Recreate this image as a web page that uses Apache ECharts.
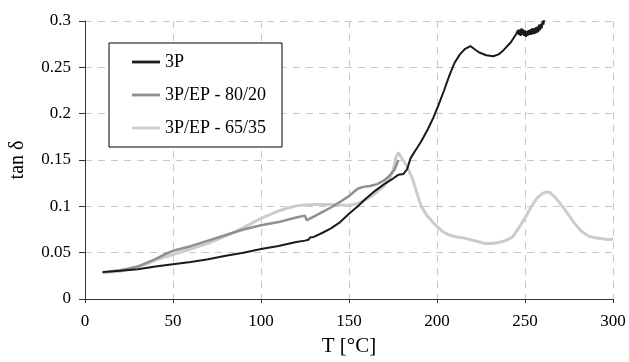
<!DOCTYPE html>
<html>
<head>
<meta charset="utf-8">
<script src="https://cdn.jsdelivr.net/npm/echarts@6/dist/echarts.min.js"></script>
<style>html,body{margin:0;padding:0;background:#fff}#c{width:629px;height:362px}</style>
</head>
<body>
<div id="c"></div>
<script>
// ---- data ----
const seriesNames = ['3P', '3P/EP - 80/20', '3P/EP - 65/35'];
const xTicks = [0, 50, 100, 150, 200, 250, 300];
const yTicks = [0, 0.05, 0.1, 0.15, 0.2, 0.25, 0.3];

const t3P = [10,20,30,40,50,60,70,80,90,100,110,120,125,127,128,130,135,140,145,150,155,160,165,170,175,178,181,183,185,188,191,195,198,201,204,207,210,213,216,219,221,224,228,232,235,237,239,242,244,245,245.5,246,246.5,247,247.5,248,248.5,249,249.5,250,250.5,251,251.5,252,252.5,253,253.5,254,254.5,255,255.5,256,256.5,257,257.5,258,258.5,259,259.5,260,260.5,261];
const v3P = [0.029,0.0305,0.032,0.035,0.0376,0.040,0.043,0.0466,0.050,0.054,0.0573,0.0616,0.063,0.064,0.0665,0.067,0.0715,0.0765,0.083,0.092,0.100,0.109,0.117,0.124,0.130,0.134,0.135,0.140,0.152,0.161,0.170,0.184,0.196,0.210,0.225,0.241,0.255,0.264,0.270,0.273,0.270,0.266,0.263,0.262,0.264,0.267,0.271,0.277,0.283,0.286,0.284,0.290,0.285,0.291,0.284,0.292,0.285,0.291,0.284,0.290,0.283,0.289,0.284,0.290,0.285,0.291,0.285,0.292,0.286,0.292,0.286,0.293,0.287,0.294,0.288,0.296,0.290,0.297,0.292,0.300,0.296,0.306];

const t8020 = [10,15,20,25,30,35,40,45,50,60,70,80,90,100,110,120,125,126,127,130,135,140,145,150,153,155,158,162,166,170,173,176,178];
const v8020 = [0.029,0.030,0.031,0.033,0.035,0.039,0.043,0.048,0.052,0.057,0.063,0.069,0.075,0.0795,0.083,0.088,0.090,0.085,0.086,0.089,0.094,0.099,0.105,0.111,0.116,0.119,0.121,0.122,0.124,0.128,0.133,0.140,0.150];

const t6535 = [10,15,20,25,30,35,40,45,50,60,70,80,90,100,105,110,115,120,125,130,140,150,155,160,165,170,173,175,176.5,178,180,183,186,189,191,194,198,203,207,211,215,219,223,227,231,235,239,243,247,251,254,257,260,262,264,267,270,274,278,282,286,290,294,298,300];
const v6535 = [0.028,0.029,0.030,0.032,0.035,0.038,0.042,0.045,0.048,0.054,0.060,0.068,0.077,0.087,0.091,0.095,0.098,0.1005,0.1015,0.102,0.102,0.101,0.103,0.108,0.114,0.122,0.130,0.138,0.152,0.158,0.152,0.143,0.130,0.112,0.100,0.091,0.082,0.073,0.069,0.067,0.066,0.064,0.062,0.060,0.060,0.061,0.063,0.067,0.078,0.091,0.101,0.109,0.114,0.1155,0.115,0.110,0.103,0.093,0.082,0.073,0.068,0.066,0.065,0.064,0.065];

const pair = (xs, ys) => xs.map((x, i) => [x, ys[i]]);
const FONT = 'Liberation Serif';

const chart = echarts.init(document.getElementById('c'), null, {renderer: 'canvas'});
const mkSeries = (name, data, color, width) => ({
  name, type: 'line', data, showSymbol: false, symbol: 'none',
  lineStyle: {color, width}, itemStyle: {color}, animation: false, smooth: false
});
const lineIcon = 'path://M0,0H30V3H0Z';
chart.setOption({
  animation: false,
  grid: {left: 84, right: 16, top: 21, bottom: 62, containLabel: false},
  legend: {
    orient: 'vertical', left: 109, top: 43,
    padding: [10, 16, 10, 23],
    borderColor: '#000', borderWidth: 1, backgroundColor: '#fff',
    itemWidth: 28, itemHeight: 3, itemGap: 15,
    textStyle: {fontFamily: FONT, fontSize: 18, color: '#000', lineHeight: 18},
    data: [
      {name: seriesNames[0], icon: lineIcon},
      {name: seriesNames[1], icon: lineIcon},
      {name: seriesNames[2], icon: lineIcon}
    ]
  },
  xAxis: {
    type: 'value', min: 0, max: 300, interval: 50,
    name: 'T [°C]', nameLocation: 'middle', nameGap: 37,
    nameTextStyle: {fontFamily: FONT, fontSize: 21, color: '#000'},
    axisLine: {show: true, onZero: false, lineStyle: {color: '#333', width: 1}},
    axisTick: {show: true, length: 4, inside: false, lineStyle: {color: '#333'}},
    axisLabel: {fontFamily: FONT, fontSize: 17, color: '#000', margin: 14,
      customValues: xTicks, formatter: v => String(v)},
    splitLine: {show: true, lineStyle: {color: '#c8c8c8', type: [7, 6], width: 1}}
  },
  yAxis: {
    type: 'value', min: 0, max: 0.3, interval: 0.05,
    name: 'tan δ', nameLocation: 'middle', nameGap: 57, nameRotate: 90,
    nameTextStyle: {fontFamily: FONT, fontSize: 20, color: '#000'},
    axisLine: {show: true, onZero: false, lineStyle: {color: '#333', width: 1}},
    axisTick: {show: true, length: 6, inside: false, lineStyle: {color: '#333'}},
    axisLabel: {fontFamily: FONT, fontSize: 17, color: '#000', margin: 14,
      formatter: v => { const m = yTicks.find(t => Math.abs(t - v) < 1e-9); return String(+((m ?? v).toFixed(2))); }},
    splitLine: {show: true, lineStyle: {color: '#c8c8c8', type: [7, 6], width: 1}}
  },
  series: [
    mkSeries(seriesNames[2], pair(t6535, v6535), '#cccccc', 3),
    mkSeries(seriesNames[1], pair(t8020, v8020), '#8f8f8f', 2.5),
    mkSeries(seriesNames[0], pair(t3P, v3P), '#1a1a1a', 2)
  ]
});
</script>
</body>
</html>
